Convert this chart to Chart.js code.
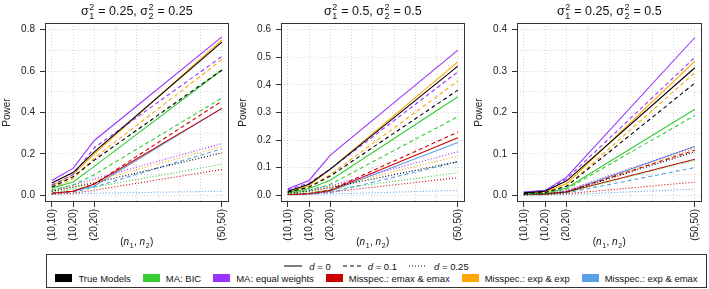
<!DOCTYPE html>
<html>
<head>
<meta charset="utf-8">
<script src="https://cdn.jsdelivr.net/npm/chart.js@4.4.0/dist/chart.umd.min.js"></script>
<style>
  body { margin: 0; background: #fff; font-family: "Liberation Sans", Arial, sans-serif; }
  #wrap { position: relative; width: 709px; height: 289px; overflow: hidden; }
  #wrap canvas { position: absolute; top: 0; }
  #legend { position: absolute; left: 46px; top: 254px; width: 661px; height: 34px;
    border: 1px solid #333; box-sizing: border-box; font-size: 9.5px; color: #111; }
  .row { display: flex; justify-content: center; align-items: center; height: 12px; }
  .row.top { margin-top: 5px; }
  .row.bottom { margin-top: 0px; }
  .item { display: flex; align-items: center; margin: 0 6px; }
  .sw { width: 17px; height: 8px; margin-right: 6px; }
  .ln { width: 18px; height: 4px; margin-right: 7px; }
</style>
</head>
<body>
<div id="wrap">
  <canvas id="c0" width="236" height="252" style="left:0px"></canvas>
  <canvas id="c1" width="236" height="252" style="left:236px"></canvas>
  <canvas id="c2" width="237" height="252" style="left:472px"></canvas>
  <div id="legend">
    <div class="row top" id="ltRow"></div>
    <div class="row bottom" id="colRow"></div>
  </div>
</div>
<script>
// x positions are n1 + n2, labelled with the (n1,n2) pair
const xValues = [ 20, 30, 40, 100 ];
const xLabels = [ "(10,10)", "(10,20)", "(20,20)", "(50,50)" ];

const models = [ "True Models", "MA: BIC", "MA: equal weights",
  "Misspec.: emax & emax", "Misspec.: exp & exp", "Misspec.: exp & emax" ];
const modelColors = [ "#000000", "#33cc33", "#9933ff", "#cd0000", "#ffa500", "#5aa0e8" ];
const dValues = [ "0", "0.1", "0.25" ];
const dDash = [ [], [ 4, 3 ], [ 1, 2 ] ];

// each array: rows are d = 0, 0.1, 0.25 ; columns follow xValues
const p1True = [ [ 0.06, 0.11, 0.21, 0.74 ], [ 0.04, 0.09, 0.17, 0.605 ], [ 0.02, 0.04, 0.06, 0.205 ] ];
const p1Bic = [ [ 0.035, 0.065, 0.14, 0.605 ], [ 0.025, 0.05, 0.10, 0.47 ], [ 0.015, 0.03, 0.04, 0.15 ] ];
const p1Ew = [ [ 0.072, 0.13, 0.265, 0.765 ], [ 0.05, 0.10, 0.23, 0.67 ], [ 0.025, 0.05, 0.08, 0.25 ] ];
const p1Emax = [ [ 0.01, 0.02, 0.055, 0.42 ], [ 0.01, 0.02, 0.055, 0.455 ], [ 0.005, 0.01, 0.025, 0.125 ] ];
const p1Exp = [ [ 0.045, 0.10, 0.20, 0.75 ], [ 0.035, 0.08, 0.18, 0.655 ], [ 0.02, 0.04, 0.07, 0.235 ] ];
const p1ExpEmax = [ [ 0.01, 0.02, 0.045, 0.42 ], [ 0.008, 0.015, 0.04, 0.225 ], [ 0.005, 0.008, 0.01, 0.02 ] ];

const p2True = [ [ 0.015, 0.04, 0.095, 0.468 ], [ 0.012, 0.03, 0.07, 0.381 ], [ 0.008, 0.015, 0.028, 0.122 ] ];
const p2Bic = [ [ 0.01, 0.025, 0.055, 0.357 ], [ 0.008, 0.018, 0.04, 0.285 ], [ 0.005, 0.01, 0.02, 0.082 ] ];
const p2Ew = [ [ 0.024, 0.054, 0.146, 0.526 ], [ 0.02, 0.045, 0.095, 0.447 ], [ 0.01, 0.02, 0.035, 0.158 ] ];
const p2Emax = [ [ 0.003, 0.006, 0.018, 0.209 ], [ 0.003, 0.007, 0.02, 0.229 ], [ 0.003, 0.006, 0.012, 0.064 ] ];
const p2Exp = [ [ 0.012, 0.035, 0.095, 0.483 ], [ 0.012, 0.03, 0.075, 0.414 ], [ 0.008, 0.018, 0.03, 0.142 ] ];
const p2ExpEmax = [ [ 0.003, 0.006, 0.015, 0.191 ], [ 0.002, 0.004, 0.01, 0.122 ], [ 0.002, 0.003, 0.005, 0.018 ] ];

const p3True = [ [ 0.006, 0.01, 0.035, 0.308 ], [ 0.004, 0.007, 0.022, 0.271 ], [ 0.002, 0.004, 0.008, 0.105 ] ];
const p3Bic = [ [ 0.003, 0.005, 0.018, 0.208 ], [ 0.003, 0.005, 0.015, 0.193 ], [ 0.002, 0.003, 0.007, 0.085 ] ];
const p3Ew = [ [ 0.008, 0.012, 0.044, 0.381 ], [ 0.007, 0.011, 0.04, 0.333 ], [ 0.003, 0.005, 0.012, 0.118 ] ];
const p3Emax = [ [ 0.002, 0.003, 0.008, 0.087 ], [ 0.002, 0.003, 0.009, 0.109 ], [ 0.001, 0.002, 0.004, 0.032 ] ];
const p3Exp = [ [ 0.005, 0.008, 0.028, 0.324 ], [ 0.004, 0.007, 0.022, 0.296 ], [ 0.002, 0.004, 0.009, 0.113 ] ];
const p3ExpEmax = [ [ 0.002, 0.003, 0.009, 0.118 ], [ 0.001, 0.002, 0.006, 0.067 ], [ 0.001, 0.001, 0.002, 0.015 ] ];

const panelSigmas = [ [ "0.25", "0.25" ], [ "0.5", "0.5" ], [ "0.25", "0.5" ] ];
const panelYMax = [ 0.8, 0.6, 0.4 ];
const panelYLabelStep = [ 0.2, 0.1, 0.1 ];
const panelYGridStep = [ 0.1, 0.05, 0.05 ];
const xGrid = [ 20, 30, 40, 50, 60, 70, 80, 90, 100 ];

const panelSeries = [
  [ p1True, p1Bic, p1Ew, p1Emax, p1Exp, p1ExpEmax ],
  [ p2True, p2Bic, p2Ew, p2Emax, p2Exp, p2ExpEmax ],
  [ p3True, p3Bic, p3Ew, p3Emax, p3Exp, p3ExpEmax ],
];

const FONT = "'Liberation Sans', Arial, sans-serif";

// draws a row of plotmath-like tokens centred on cx
function drawMath ( ctx, tokens, cx, baseY, size ) {
  const small = Math.round( size * 0.72 );
  const widths = tokens.map( t => {
    if ( t.text !== undefined ) {
      ctx.font = ( t.italic ? "italic " : "" ) + size + "px " + FONT;
      return ctx.measureText( t.text ).width;
    }
    ctx.font = small + "px " + FONT;
    return Math.max( ctx.measureText( t.sup || "" ).width, ctx.measureText( t.sub || "" ).width ) + 1;
  } );
  let x = cx - widths.reduce( ( a, b ) => a + b, 0 ) / 2;
  ctx.fillStyle = "#111";
  ctx.textBaseline = "alphabetic";
  ctx.textAlign = "left";
  tokens.forEach( ( t, i ) => {
    if ( t.text !== undefined ) {
      ctx.font = ( t.italic ? "italic " : "" ) + size + "px " + FONT;
      ctx.fillText( t.text, x, baseY );
    } else {
      ctx.font = small + "px " + FONT;
      if ( t.sup ) ctx.fillText( t.sup, x + 0.5, baseY - size * 0.42 );
      if ( t.sub ) ctx.fillText( t.sub, x + 0.5, baseY + size * 0.28 );
    }
    x += widths[ i ];
  } );
}

const xTitle = [ { text: "(" }, { text: "n", italic: true }, { sub: "1" }, { text: ", " },
  { text: "n", italic: true }, { sub: "2" }, { text: ")" } ];

const framePlugin = {
  id: "frame",
  afterDraw ( chart, args, opts ) {
    const { ctx, chartArea: a } = chart;
    ctx.save();
    ctx.strokeStyle = "#333";
    ctx.lineWidth = 1;
    ctx.strokeRect( Math.round( a.left ) + 0.5, Math.round( a.top ) + 0.5,
      Math.round( a.right - a.left ) - 1, Math.round( a.bottom - a.top ) - 1 );
    const s = opts.sigmas;
    drawMath( ctx, [ { text: "σ" }, { sup: "2", sub: "1" }, { text: " = " + s[ 0 ] + ", σ" },
      { sup: "2", sub: "2" }, { text: " = " + s[ 1 ] } ], ( a.left + a.right ) / 2, 15, 12.5 );
    drawMath( ctx, xTitle, ( a.left + a.right ) / 2, 245, 10 );
    ctx.restore();
  }
};

const near = ( v, step ) => Math.abs( v / step - Math.round( v / step ) ) < 1e-6;

function makePanel ( p ) {
  const yMax = panelYMax[ p ];
  const yStep = panelYLabelStep[ p ];
  const yGrid = [];
  for ( let v = 0; v <= yMax + 1e-9; v += panelYGridStep[ p ] ) yGrid.push( Math.round( v * 1000 ) / 1000 );

  const datasets = [];
  panelSeries[ p ].forEach( ( rows, m ) => {
    rows.forEach( ( vals, d ) => {
      datasets.push( {
        label: models[ m ] + ", d = " + dValues[ d ],
        data: vals.map( ( y, i ) => ( { x: xValues[ i ], y } ) ),
        borderColor: modelColors[ m ],
        borderWidth: 1.1,
        borderDash: dDash[ d ],
        pointRadius: 0,
        fill: false,
        tension: 0,
      } );
    } );
  } );

  return new Chart( document.getElementById( "c" + p ), {
    type: "line",
    data: { datasets },
    plugins: [ framePlugin ],
    options: {
      responsive: false,
      animation: false,
      layout: { padding: { top: 23, right: p === 2 ? 4 : 3 } },
      plugins: {
        legend: { display: false },
        tooltip: { enabled: false },
        frame: { sigmas: panelSigmas[ p ] },
      },
      scales: {
        x: {
          type: "linear",
          min: 16.8,
          max: 103.2,
          afterBuildTicks: s => { s.ticks = xGrid.map( v => ( { value: v } ) ); },
          afterFit: s => { s.height = 50; },
          grid: {
            color: "#d6d6d6",
            tickLength: 5,
            tickColor: c => xValues.includes( c.tick?.value ) ? "#333" : "rgba(0,0,0,0)",
          },
          border: { display: false, dash: [ 1, 2 ] },
          ticks: {
            autoSkip: false,
            minRotation: 90,
            maxRotation: 90,
            padding: 2,
            color: "#222",
            font: { family: FONT, size: 10 },
            callback: v => {
              const i = xValues.indexOf( v );
              return i >= 0 ? xLabels[ i ] : "";
            },
          },
        },
        y: {
          min: -0.04 * yMax,
          max: 1.04 * yMax,
          afterBuildTicks: s => { s.ticks = yGrid.map( v => ( { value: v } ) ); },
          afterFit: s => { s.width = 45; },
          grid: {
            color: "#d6d6d6",
            tickLength: 5,
            tickColor: c => near( c.tick?.value ?? 0.001, yStep ) ? "#333" : "rgba(0,0,0,0)",
          },
          border: { display: false, dash: [ 1, 2 ] },
          title: {
            display: true,
            text: "Power",
            color: "#222",
            font: { family: FONT, size: 10 },
            padding: { top: 1, bottom: 0 },
          },
          ticks: {
            padding: 5,
            color: "#222",
            font: { family: FONT, size: 10 },
            callback: v => near( v, yStep ) ? v.toFixed( 1 ) : "",
          },
        },
      },
    },
  } );
}

[ 0, 1, 2 ].forEach( makePanel );

// legend rows
const svgLine = dash => '<svg class="ln" width="18" height="4"><line x1="0" y1="2" x2="18" y2="2" stroke="#000" stroke-width="1" stroke-dasharray="' +
  ( dash.length ? dash.join( " " ) : "none" ) + '"/></svg>';
document.getElementById( "ltRow" ).innerHTML = dValues.map( ( d, i ) =>
  '<div class="item">' + svgLine( dDash[ i ] ) + "<span><i>d</i> = " + d + "</span></div>" ).join( "" );
document.getElementById( "colRow" ).innerHTML = models.map( ( m, i ) =>
  '<div class="item"><div class="sw" style="background:' + modelColors[ i ] + '"></div><span>' + m + "</span></div>" ).join( "" );
</script>
</body>
</html>
